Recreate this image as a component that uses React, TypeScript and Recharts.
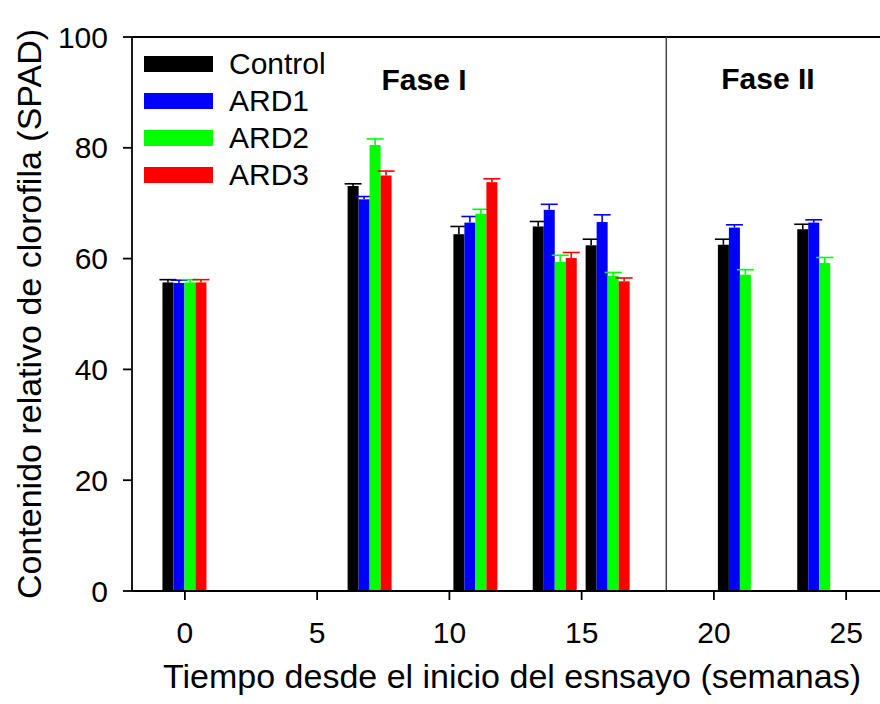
import React from "react";
import {
  Bar,
  ComposedChart,
  Legend,
  ReferenceLine,
  XAxis,
  YAxis,
} from "recharts";

const weeks = [0, 7, 11, 14, 16, 21, 24];
const control = [55.7, 73.1, 64.4, 65.8, 62.4, 62.5, 65.3];
const ard1 = [55.6, 70.7, 66.5, 68.8, 66.6, 65.6, 66.5];
const ard2 = [55.7, 80.5, 68.1, 59.4, 56.9, 57.1, 59.2];
const ard3 = [55.7, 75.0, 73.8, 60.1, 55.9, null, null];
const controlErr = [0.5, 0.4, 1.4, 0.9, 1.1, 1.0, 0.9];
const ard1Err = [0.5, 0.5, 1.1, 1.0, 1.3, 0.5, 0.5];
const ard2Err = [0.5, 1.1, 0.8, 1.2, 0.6, 0.9, 1.0];
const ard3Err = [0.5, 0.8, 0.6, 1.0, 0.6, null, null];

const xTicks = [0, 5, 10, 15, 20, 25];
const yTicks = [0, 20, 40, 60, 80, 100];

const series = [
  { key: "control", name: "Control", color: "#000000" },
  { key: "ard1", name: "ARD1", color: "#0000ff" },
  { key: "ard2", name: "ARD2", color: "#00ff00" },
  { key: "ard3", name: "ARD3", color: "#ff0000" },
];

const data = weeks.map((w, i) => ({
  week: w,
  control: control[i],
  ard1: ard1[i],
  ard2: ard2[i],
  ard3: ard3[i],
  controlErr: controlErr[i],
  ard1Err: ard1Err[i],
  ard2Err: ard2Err[i],
  ard3Err: ard3Err[i],
}));

const FONT = "'Liberation Sans', Arial, sans-serif";

// bar with only the upper error whisker, sized from the bar's own scale
const barWithError = (key: string, color: string) => (props: any) => {
  const { x, y, width, height, payload } = props;
  const value = payload[key];
  if (value == null || !height) return <g />;
  const err = payload[`${key}Err`] ?? 0;
  const errPx = (height * err) / value;
  const cx = x + width / 2;
  const top = y - errPx;
  return (
    <g>
      <rect x={x} y={y} width={width} height={height} fill={color} />
      <line x1={cx} y1={y} x2={cx} y2={top} stroke={color} strokeWidth={1.6} />
      <line x1={cx - 8.5} y1={top} x2={cx + 8.5} y2={top} stroke={color} strokeWidth={1.6} />
    </g>
  );
};

const LegendBox = () => (
  <div style={{ fontFamily: FONT, fontSize: 30, color: "#000" }}>
    {series.map((s) => (
      <div key={s.key} style={{ display: "flex", alignItems: "center", height: 37 }}>
        <span style={{ width: 69, height: 16, background: s.color, display: "inline-block" }} />
        <span style={{ marginLeft: 16, lineHeight: "37px" }}>{s.name}</span>
      </div>
    ))}
  </div>
);

export default function App() {
  return (
    <div style={{ position: "relative", width: 880, height: 704 }}>
      <style>{`body{margin:0}`}</style>
      <ComposedChart
        width={880}
        height={704}
        data={data}
        margin={{ top: 37, right: 0, left: 0, bottom: 0 }}
        barGap={0}
        barCategoryGap={0}
      >
        <XAxis
          dataKey="week"
          type="number"
          domain={[-2, 26.28]}
          ticks={xTicks}
          allowDataOverflow
          height={113}
          tickSize={9}
          tickMargin={22}
          stroke="#000"
          strokeWidth={1.8}
          tick={{ fill: "#000", fontSize: 30, fontFamily: FONT }}
          label={{
            value: "Tiempo desde el inicio del esnsayo (semanas)",
            position: "center",
            dy: 28,
            dx: 6,
            fill: "#000",
            fontSize: 34,
            fontFamily: FONT,
          }}
        />
        <YAxis
          type="number"
          domain={[0, 100]}
          ticks={yTicks}
          width={132}
          tickSize={9}
          tickMargin={15}
          stroke="#000"
          strokeWidth={1.8}
          tick={{ fill: "#000", fontSize: 30, fontFamily: FONT }}
          label={{
            value: "Contenido relativo de clorofila (SPAD)",
            angle: -90,
            position: "center",
            dx: -37,
            fill: "#000",
            fontSize: 34,
            fontFamily: FONT,
          }}
        />
        <ReferenceLine y={100} stroke="#000" strokeWidth={1.8} />
        <ReferenceLine x={18.2} stroke="#444" strokeWidth={1.5} />
        <Legend
          layout="vertical"
          align="center"
          verticalAlign="middle"
          content={<LegendBox />}
          wrapperStyle={{ top: 45, left: 144, width: "auto", height: "auto" }}
        />
        {series.map((s) => (
          <Bar
            key={s.key}
            dataKey={s.key}
            name={s.name}
            fill={s.color}
            barSize={11}
            isAnimationActive={false}
            shape={barWithError(s.key, s.color)}
          />
        ))}
      </ComposedChart>
      <svg
        width={880}
        height={704}
        style={{ position: "absolute", left: 0, top: 0, pointerEvents: "none" }}
      >
        <text x={424} y={90} textAnchor="middle" fontFamily={FONT} fontSize={30} fontWeight="bold">
          Fase I
        </text>
        <text x={768} y={89} textAnchor="middle" fontFamily={FONT} fontSize={30} fontWeight="bold">
          Fase II
        </text>
      </svg>
    </div>
  );
}
